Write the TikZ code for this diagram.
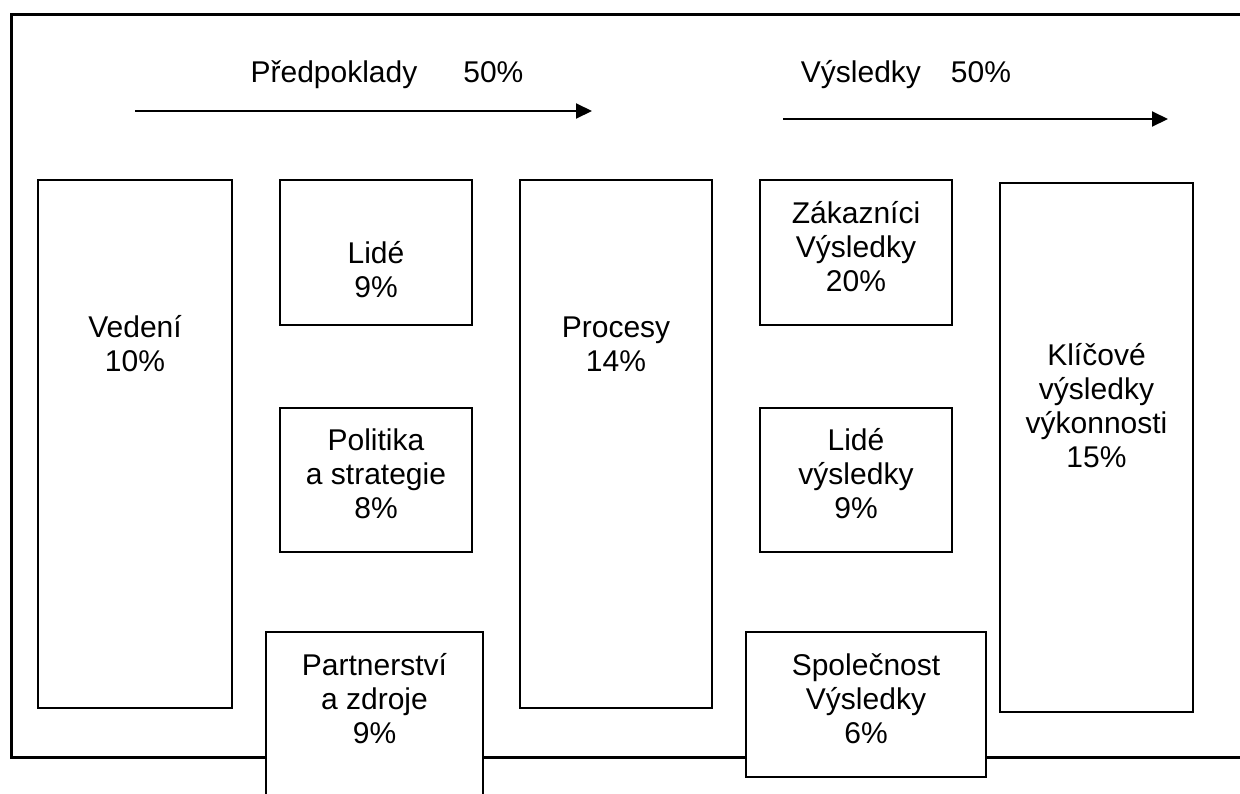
\documentclass[tikz,border=0pt]{standalone}
\usepackage{fontspec}
\setmainfont{Liberation Sans}
\usetikzlibrary{arrows.meta}
\begin{document}
\begin{tikzpicture}[x=1pt,y=-1pt,
  boxnode/.style={draw=black,line width=2pt,fill=white,inner sep=0pt,outer sep=0pt},
  lbl/.style={align=center,font=\fontsize{30}{34}\selectfont,inner sep=0pt},
  frameline/.style={line width=3pt},
  arr/.style={line width=2pt,-{Triangle[length=16pt,width=15pt]}}]
\useasboundingbox (0,0) rectangle (1240,793);
\clip (0,0) rectangle (1240,793);
\draw[frameline] (1260,14) -- (11,14) -- (11,757) -- (1260,757);
% headings and arrows
\node[lbl] (predp) at (387,75) {Předpoklady\hspace{46pt}50\%};
\node[lbl] (vysl) at (906,75) {Výsledky\hspace{30pt}50\%};
\coordinate (a1s) at (135,111);
\coordinate (a1e) at (592,111);
\coordinate (a2s) at (783,119);
\coordinate (a2e) at (1168,119);
\draw[arr] (a1s) -- (a1e);
\draw[arr] (a2s) -- (a2e);
% boxes
\node[boxnode,minimum width=194pt,minimum height=528pt] (vedeni) at (135,444) {};
\node[boxnode,minimum width=192pt,minimum height=145pt] (lide) at (376,252.5) {};
\node[boxnode,minimum width=192pt,minimum height=144pt] (politika) at (376,480) {};
\node[boxnode,minimum width=217pt,minimum height=188pt] (partner) at (374.5,726) {};
\node[boxnode,minimum width=192pt,minimum height=528pt] (procesy) at (616,444) {};
\node[boxnode,minimum width=192pt,minimum height=145pt] (zakaz) at (856,252.5) {};
\node[boxnode,minimum width=192pt,minimum height=144pt] (lidev) at (856,480) {};
\node[boxnode,minimum width=240pt,minimum height=145pt] (spol) at (866,704.5) {};
\node[boxnode,minimum width=193pt,minimum height=529pt] (klic) at (1096.5,447.5) {};
% labels
\node[lbl] (vedeniT) at (135,344) {Vedení\\10\%};
\node[lbl] (lideT) at (376,270) {Lidé\\9\%};
\node[lbl] (politikaT) at (376,474) {Politika\\a strategie\\8\%};
\node[lbl] (partnerT) at (374.5,699) {Partnerství\\a zdroje\\9\%};
\node[lbl] (procesyT) at (616,344) {Procesy\\14\%};
\node[lbl] (zakazT) at (856,247) {Zákazníci\\Výsledky\\20\%};
\node[lbl] (lidevT) at (856,474) {Lidé\\výsledky\\9\%};
\node[lbl] (spolT) at (866,699) {Společnost\\Výsledky\\6\%};
\node[lbl] (klicT) at (1096.5,406) {Klíčové\\výsledky\\výkonnosti\\15\%};
\end{tikzpicture}
\end{document}
